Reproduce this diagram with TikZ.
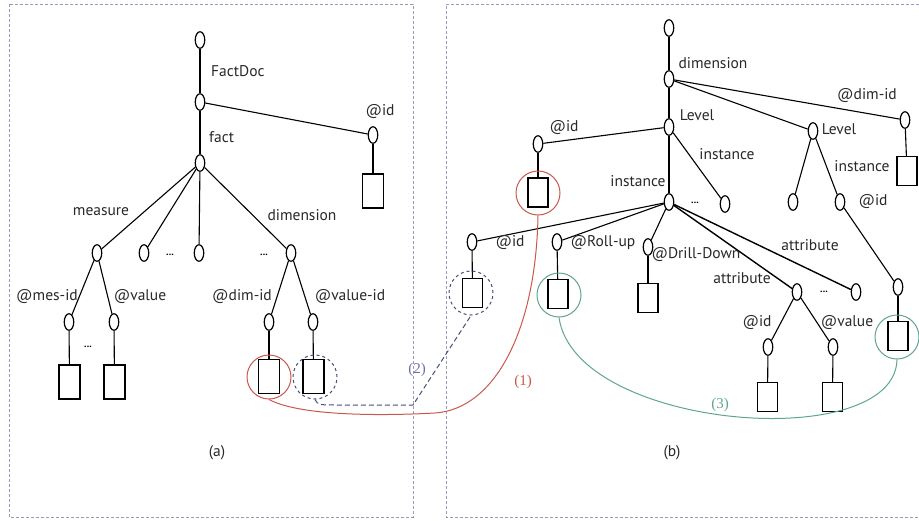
\documentclass[tikz,border=0pt]{standalone}
\usepackage{fontspec}
\setmainfont{PT Sans}
\newfontfamily\serifnum{Liberation Serif}
\usetikzlibrary{shapes.geometric}
\definecolor{redc}{RGB}{200,88,76}
\definecolor{bluec}{RGB}{72,80,120}
\definecolor{purplec}{RGB}{110,110,170}
\definecolor{greenc}{RGB}{95,165,145}
\definecolor{borderc}{RGB}{150,155,190}
\definecolor{txt}{RGB}{40,40,40}
\begin{document}
\begin{tikzpicture}[x=1pt,y=-1pt,
  nd/.style={ellipse,draw,line width=1.2pt,minimum width=9.5pt,minimum height=16.5pt,inner sep=0pt},
  lf/.style={rectangle,draw,line width=1.2pt,minimum width=21pt,minimum height=34pt,inner sep=0pt},
  lfs/.style={rectangle,draw,line width=1.2pt,minimum width=20pt,minimum height=29pt,inner sep=0pt},
  lbl/.style={font=\fontsize{15.5}{17}\selectfont,text=txt,inner sep=0pt},
  dots/.style={font=\fontsize{10}{12}\selectfont\bfseries,inner sep=0pt},
  ed/.style={line width=1.1pt},
  hl/.style={circle,draw,line width=1pt,minimum size=44pt,inner sep=0pt},
  border/.style={draw=borderc,line width=0.8pt,dash pattern=on 3pt off 2pt},
  num/.style={font=\serifnum\fontsize{15}{17}\selectfont,inner sep=0pt}]
\useasboundingbox (0,0) rectangle (919,520);
% panel borders
\draw[border] (9,4) rectangle (413,517);
\draw[border] (919,4) -- (446,4) -- (446,517) -- (919,517);

% ---------- left tree (a) ----------
\node[nd] (a0) at (200,40) {};
\node[nd] (a1) at (200,102) {};
\node[nd] (a2) at (200,163) {};
\node[nd] (aid) at (373,135) {};
\node[lf] (aidr) at (373,191) {};
\node[nd] (am) at (97,253) {};
\node[nd] (ac2) at (144,253) {};
\node[nd] (ac3) at (199,253) {};
\node[nd] (ad) at (291,253) {};
\node[nd] (amid) at (69,322) {};
\node[nd] (amval) at (114,322) {};
\node[lf] (amidr) at (69.5,382) {};
\node[lf] (amvalr) at (114.5,382) {};
\node[nd] (adid) at (269,322) {};
\node[nd] (adval) at (313,322) {};
\node[lf] (adidr) at (269,376.5) {};
\node[lf] (advalr) at (313.5,376.5) {};

\draw[ed] (a0) -- (a1);
\draw[ed] (a1) -- (a2);
\draw[ed] (a1) -- (aid);
\draw[ed] (aid) -- (aidr);
\draw[ed] (a2) -- (am);
\draw[ed] (a2) -- (ac2);
\draw[ed] (a2) -- (ac3);
\draw[ed] (a2) -- (ad);
\draw[ed] (am) -- (amid);
\draw[ed] (am) -- (amval);
\draw[ed] (amid) -- (amidr);
\draw[ed] (amval) -- (amvalr);
\draw[ed] (ad) -- (adid);
\draw[ed] (ad) -- (adval);
\draw[ed] (adid) -- (adidr);
\draw[ed] (adval) -- (advalr);

\node[lbl,anchor=west] (tfd) at (211,71) {FactDoc};
\node[lbl] (taid) at (380,112) {@id};
\node[lbl,anchor=west] (tfact) at (209,137) {fact};
\node[lbl] (tmeas) at (101,212) {measure};
\node[lbl] (tdim) at (302,215) {dimension};
\node[dots] (dl1) at (170,255) {...};
\node[dots] (dl2) at (264,255) {...};
\node[dots] (dl3) at (88,347) {...};
\node[lbl] (tmesid) at (47,297) {@mes-id};
\node[lbl] (tval) at (140,297) {@value};
\node[lbl] (tdimid) at (242,297) {@dim-id};
\node[lbl] (tvalid) at (350,297) {@value-id};
\node[lbl] (ta) at (217,453) {(a)};

% ---------- right tree (b) ----------
\node[nd] (b0) at (669,28) {};
\node[nd] (b1) at (669,79) {};
\node[nd] (bl1) at (669,127) {};
\node[nd] (bl2) at (813,131) {};
\node[nd] (bdid) at (905,120) {};
\node[lfs] (bdidr) at (907,171) {};
\node[nd] (bid) at (538,144) {};
\node[lfs] (bidr) at (538,192.5) {};
\node[nd] (binr) at (725,204) {};
\node[nd] (bi) at (669,202) {};
\node[nd] (bl2a) at (793,202) {};
\node[nd] (bl2b) at (840,202) {};
\node[nd] (bl2c) at (898,287) {};
\node[lfs] (bl2cr) at (898,336) {};
\node[nd] (biid) at (472,242) {};
\node[lfs] (biidr) at (472.5,293) {};
\node[nd] (broll) at (557,242) {};
\node[lfs] (brollr) at (558,294) {};
\node[nd] (bdrill) at (648,247) {};
\node[lfs] (bdrillr) at (648,298) {};
\node[nd] (batt1) at (797,292) {};
\node[nd] (batt2) at (856,292) {};
\node[nd] (baid) at (768,347) {};
\node[nd] (baval) at (833,347) {};
\node[lfs] (baidr) at (767.5,397) {};
\node[lfs] (bavalr) at (832.5,397) {};

\draw[ed] (b0) -- (b1);
\draw[ed] (b1) -- (bl1);
\draw[ed] (b1) -- (bl2);
\draw[ed] (b1) -- (bdid);
\draw[ed] (bdid) -- (bdidr);
\draw[ed] (bl1) -- (bid);
\draw[ed] (bid) -- (bidr);
\draw[ed] (bl1) -- (binr);
\draw[ed] (bl1) -- (bi);
\draw[ed] (bl2) -- (bl2a);
\draw[ed] (bl2) -- (bl2b);
\draw[ed] (bl2b) -- (bl2c);
\draw[ed] (bl2c) -- (bl2cr);
\draw[ed] (bi) -- (biid);
\draw[ed] (biid) -- (biidr);
\draw[ed] (bi) -- (broll);
\draw[ed] (broll) -- (brollr);
\draw[ed] (bi) -- (bdrill);
\draw[ed] (bdrill) -- (bdrillr);
\draw[ed,line width=1.4pt] (bi) -- (batt1);
\draw[ed,line width=1.4pt] (bi) -- (batt2);
\draw[ed] (batt1) -- (baid);
\draw[ed] (batt1) -- (baval);
\draw[ed] (baid) -- (baidr);
\draw[ed] (baval) -- (bavalr);

\node[lbl] (tdimension) at (713,63) {dimension};
\node[lbl] (tbdimid) at (867,96) {@dim-id};
\node[lbl] (tlev1) at (697,115) {Level};
\node[lbl] (tlev2) at (839,129) {Level};
\node[lbl] (tbid) at (564,128) {@id};
\node[lbl] (tinst1) at (727,154) {instance};
\node[lbl] (tinst2) at (638,181) {instance};
\node[dots] (dr1) at (695,203) {...};
\node[lbl] (tinst3) at (862,166) {instance};
\node[lbl] (tbid2) at (873,202) {@id};
\node[lbl] (tbid3) at (510,243) {@id};
\node[lbl] (troll) at (603,243) {@Roll-up};
\node[lbl] (tdrill) at (696,255) {@Drill-Down};
\node[lbl] (tattr1) at (810,245) {attribute};
\node[lbl] (tattr2) at (742,278) {attribute};
\node[dots] (dr2) at (824,292) {...};
\node[lbl] (tbaid) at (757,323) {@id};
\node[lbl] (tbaval) at (847,323) {@value};
\node[lbl] (tb) at (672,453) {(b)};

% ---------- highlight circles ----------
\node[hl,draw=redc] (cr1) at (269,377) {};
\node[hl,draw=bluec,dashed] (cb1) at (315,377) {};
\node[hl,draw=redc] (cr2) at (538,193) {};
\node[hl,draw=bluec,dashed] (cb2) at (471,293) {};
\node[hl,draw=greenc] (cg1) at (559,295) {};
\node[hl,draw=greenc] (cg2) at (897,337) {};

% ---------- mapping connectors ----------
\coordinate (rmid) at (435,413);
\draw[redc,line width=1pt] (cr1.south) .. controls (300,416) and (380,416) .. (rmid)
  .. controls (495,409) and (536,330) .. (cr2.south);
\coordinate (bk1) at (340,405);
\coordinate (bk2) at (413,405);
\draw[bluec,line width=1pt,dash pattern=on 5pt off 3pt] (cb1.south) .. controls (318,405) .. (bk1) -- (bk2) -- (cb2.south);
\draw[greenc,line width=1pt] (cg1.south) .. controls (575,430) and (895,455) .. (cg2.south);

\node[num,text=redc] (n1) at (523,382) {(1)};
\node[num,text=purplec] (n2) at (417,370) {(2)};
\node[num,text=greenc] (n3) at (720,405) {(3)};
\end{tikzpicture}
\end{document}
